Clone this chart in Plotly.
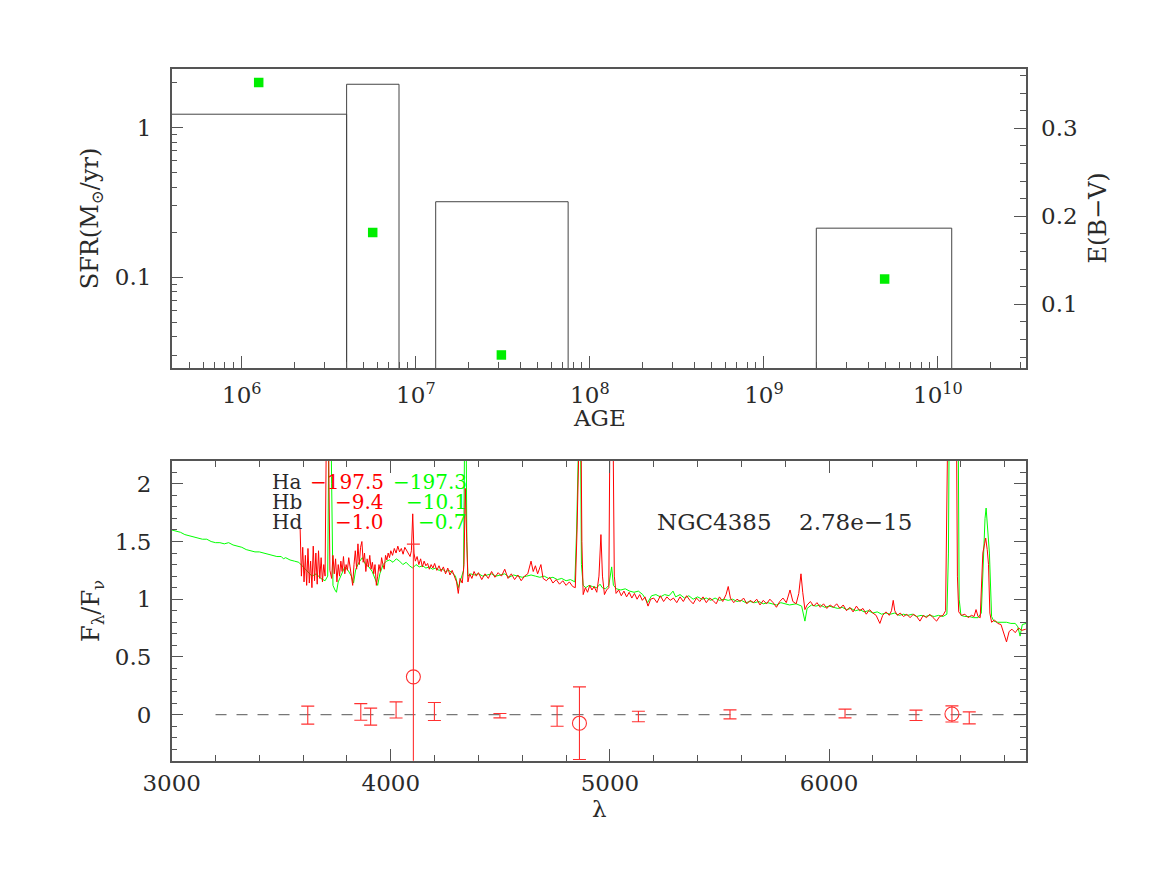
import plotly.graph_objects as go

# the page body has an 8px margin, so the figure is drawn 8px smaller and
# every target pixel position is shifted by that margin
PAGE_PAD = 8
W, H = 1166 - PAGE_PAD, 872 - PAGE_PAD

# ---- top panel: star formation history (SFR bins + E(B-V) per bin)
bin_lo = [1.0e5, 4.0e6, 1.3e7, 2.0e9]
bin_hi = [4.0e6, 8.0e6, 7.5e7, 1.2e10]
bin_sfr = [1.23, 1.95, 0.32, 0.213]

ebv_age = [1.25e6, 5.65e6, 3.1e7, 4.94e9]
ebv_val = [0.352, 0.1815, 0.0424, 0.1287]

age_ticks = [1e6, 1e7, 1e8, 1e9, 1e10]
age_labels = ["10<sup>6</sup>", "10<sup>7</sup>", "10<sup>8</sup>", "10<sup>9</sup>", "10<sup>10</sup>"]
sfr_ticks = [0.1, 1]
sfr_labels = ["0.1", "1"]
ebv_ticks = [0.1, 0.2, 0.3]

# ---- bottom panel: observed (red) and model (green) spectra
obs_wave = [3586, 3592, 3598, 3604, 3610, 3616, 3622, 3628, 3634, 3640, 3646, 3652, 3658, 3664,
            3670, 3676, 3682, 3688, 3694, 3700, 3706, 3712, 3718, 3722, 3730, 3736, 3742, 3748,
            3754, 3760, 3766, 3772, 3778, 3784, 3790, 3796, 3802, 3808, 3814, 3820, 3826, 3832,
            3838, 3844, 3850, 3856, 3862, 3868, 3874, 3880, 3886, 3892, 3898, 3904, 3910, 3916,
            3922, 3928, 3934, 3940, 3946, 3952, 3958, 3964, 3970, 3976, 3982, 3988, 3994, 4000,
            4008, 4016, 4024, 4032, 4040, 4048, 4056, 4064, 4072, 4080, 4088, 4094, 4100, 4106,
            4112, 4120, 4128, 4136, 4144, 4152, 4160, 4168, 4176, 4184, 4192, 4200, 4210, 4220,
            4230, 4240, 4250, 4260, 4270, 4280, 4290, 4300, 4308, 4316, 4326, 4334, 4340, 4346,
            4352, 4360, 4370, 4380, 4390, 4400, 4415, 4430, 4445, 4460, 4475, 4490, 4505, 4520,
            4535, 4550, 4565, 4580, 4595, 4610, 4625, 4640, 4650, 4660, 4670, 4685, 4695, 4710,
            4725, 4740, 4755, 4770, 4785, 4800, 4815, 4830, 4842, 4850, 4856, 4866, 4872, 4878,
            4888, 4898, 4908, 4918, 4928, 4940, 4950, 4959, 4966, 4975, 4985, 4995, 5002, 5012,
            5020, 5028, 5040, 5052, 5064, 5076, 5088, 5100, 5112, 5124, 5136, 5148, 5160, 5174,
            5186, 5200, 5215, 5230, 5245, 5260, 5275, 5290, 5305, 5320, 5335, 5350, 5365, 5380,
            5395, 5410, 5425, 5440, 5455, 5470, 5485, 5500, 5515, 5530, 5540, 5550, 5565, 5580,
            5595, 5610, 5625, 5640, 5655, 5670, 5685, 5700, 5715, 5730, 5745, 5760, 5775, 5790,
            5805, 5822, 5835, 5850, 5862, 5872, 5880, 5890, 5900, 5915, 5930, 5945, 5960, 5975,
            5990, 6005, 6020, 6035, 6050, 6065, 6080, 6095, 6110, 6125, 6140, 6155, 6170, 6185,
            6200, 6215, 6232, 6245, 6260, 6275, 6285, 6293, 6300, 6312, 6325, 6340, 6355, 6370,
            6385, 6400, 6415, 6430, 6445, 6460, 6475, 6491, 6505, 6520, 6532, 6538, 6545, 6580,
            6586, 6592, 6605, 6620, 6635, 6650, 6662, 6671, 6680, 6690, 6697, 6702, 6710, 6715,
            6722, 6728, 6734, 6742, 6755, 6770, 6785, 6797, 6810, 6822, 6835, 6850, 6865, 6880,
            6898]
obs_flux = [1.62, 1.20, 1.45, 1.15, 1.38, 1.12, 1.44, 1.14, 1.33, 1.10, 1.46, 1.16, 1.40, 1.13,
            1.42, 1.18, 1.36, 1.15, 1.30, 1.20, 2.50, 3.00, 2.00, 1.25, 1.18, 1.38, 1.22, 1.35,
            1.15, 1.30, 1.20, 1.33, 1.24, 1.37, 1.22, 1.30, 1.25, 1.36, 1.28, 1.18, 1.12, 1.30,
            1.42, 1.26, 1.48, 1.30, 1.45, 1.50, 1.32, 1.40, 1.24, 1.35, 1.28, 1.38, 1.26, 1.32,
            1.22, 1.30, 1.12, 1.20, 1.30, 1.24, 1.36, 1.30, 1.26, 1.38, 1.34, 1.40, 1.36, 1.42,
            1.38, 1.44, 1.40, 1.46, 1.41, 1.44, 1.39, 1.45, 1.42, 1.40, 1.37, 1.42, 1.74, 1.40,
            1.33, 1.37, 1.30, 1.35, 1.28, 1.33, 1.29, 1.31, 1.26, 1.30, 1.27, 1.31, 1.25, 1.29,
            1.24, 1.28, 1.22, 1.27, 1.21, 1.25, 1.19, 1.15, 1.05, 1.18, 1.14, 1.30, 1.96, 1.40,
            1.15, 1.22, 1.18, 1.24, 1.20, 1.23, 1.17, 1.22, 1.18, 1.24, 1.19, 1.23, 1.20, 1.26,
            1.18, 1.22, 1.17, 1.21, 1.16, 1.20, 1.22, 1.33, 1.24, 1.29, 1.22, 1.30, 1.18, 1.16,
            1.19, 1.14, 1.17, 1.13, 1.16, 1.12, 1.15, 1.11, 1.10, 1.60, 3.00, 3.00, 1.50, 1.04,
            1.10, 1.06, 1.12, 1.08, 1.11, 1.06, 1.20, 1.56, 1.20, 1.04, 1.08, 1.10, 3.00, 3.00,
            1.20, 1.05, 1.08, 1.03, 1.07, 1.02, 1.06, 1.01, 1.05, 1.00, 1.04, 0.99, 1.02, 0.94,
            1.00, 1.01, 0.97, 1.03, 0.98, 1.02, 0.99, 1.01, 0.97, 1.02, 0.98, 1.03, 0.99, 0.96,
            1.01, 0.98, 1.02, 0.97, 1.01, 0.99, 0.96, 1.02, 0.98, 1.04, 1.11, 1.01, 0.97, 1.00,
            0.98, 1.01, 0.96, 0.99, 0.97, 1.00, 0.95, 0.99, 0.96, 1.00, 0.97, 0.93, 0.98, 1.01,
            0.97, 1.08, 0.98, 0.96, 1.05, 1.22, 1.06, 0.91, 0.95, 0.98, 0.94, 0.97, 0.93, 0.96,
            0.92, 0.95, 0.93, 0.96, 0.92, 0.95, 0.90, 0.93, 0.89, 0.94, 0.90, 0.92, 0.87, 0.91,
            0.88, 0.86, 0.79, 0.86, 0.89, 0.86, 0.90, 0.99, 0.90, 0.86, 0.88, 0.85, 0.87, 0.84,
            0.87, 0.85, 0.81, 0.86, 0.84, 0.87, 0.84, 0.81, 0.85, 0.86, 0.90, 1.60, 3.00, 3.00,
            1.20, 0.89, 0.86, 0.87, 0.84, 0.86, 0.85, 0.91, 0.85, 0.84, 1.20, 1.40, 1.48, 1.53,
            1.43, 1.30, 0.88, 0.80, 0.82, 0.79, 0.78, 0.70, 0.63, 0.72, 0.74, 0.71, 0.75, 0.73,
            0.74]

mod_wave = [3000, 3020, 3040, 3060, 3080, 3100, 3120, 3140, 3160, 3180, 3200, 3220, 3240, 3260,
            3280, 3300, 3320, 3340, 3360, 3380, 3400, 3420, 3440, 3460, 3480, 3500, 3510, 3520,
            3540, 3560, 3580, 3600, 3620, 3640, 3660, 3680, 3700, 3712, 3718, 3724, 3730, 3736,
            3745, 3752, 3760, 3775, 3790, 3805, 3820, 3830, 3840, 3855, 3870, 3885, 3900, 3915,
            3930, 3940, 3950, 3965, 3980, 3995, 4010, 4025, 4040, 4055, 4070, 4085, 4100, 4115,
            4130, 4145, 4160, 4175, 4190, 4205, 4220, 4235, 4250, 4265, 4280, 4295, 4308, 4320,
            4332, 4337, 4342, 4347, 4352, 4365, 4380, 4400, 4420, 4440, 4460, 4480, 4500, 4520,
            4540, 4560, 4580, 4600, 4620, 4640, 4660, 4680, 4700, 4720, 4740, 4760, 4780, 4800,
            4820, 4840, 4848, 4854, 4864, 4870, 4878, 4890, 4905, 4920, 4940, 4955, 4965, 4980,
            4995, 5008, 5016, 5030, 5050, 5070, 5090, 5110, 5130, 5150, 5172, 5190, 5210, 5230,
            5250, 5270, 5288, 5300, 5320, 5340, 5360, 5380, 5400, 5420, 5440, 5460, 5480, 5500,
            5520, 5540, 5560, 5580, 5600, 5620, 5640, 5660, 5680, 5700, 5720, 5740, 5760, 5780,
            5800, 5820, 5850, 5875, 5890, 5900, 5920, 5940, 5960, 5980, 6000, 6020, 6040, 6060,
            6080, 6100, 6120, 6140, 6160, 6180, 6200, 6220, 6240, 6260, 6280, 6300, 6320, 6340,
            6360, 6380, 6400, 6420, 6440, 6460, 6480, 6500, 6520, 6538, 6545, 6550, 6588, 6594,
            6602, 6620, 6640, 6660, 6680, 6695, 6705, 6712, 6717, 6724, 6732, 6742, 6752, 6770,
            6790, 6810, 6830, 6850, 6862, 6872, 6882, 6900]
mod_flux = [1.60, 1.59, 1.58, 1.56, 1.55, 1.54, 1.53, 1.52, 1.52, 1.50, 1.49, 1.49, 1.48, 1.49,
            1.47, 1.46, 1.45, 1.43, 1.42, 1.41, 1.41, 1.40, 1.39, 1.38, 1.37, 1.37, 1.35, 1.36,
            1.34, 1.33, 1.32, 1.28, 1.24, 1.20, 1.22, 1.18, 1.16, 1.20, 2.60, 3.00, 2.00, 1.12,
            1.08, 1.06, 1.15, 1.22, 1.28, 1.25, 1.20, 1.14, 1.26, 1.32, 1.36, 1.30, 1.28, 1.24,
            1.16, 1.12, 1.22, 1.30, 1.33, 1.34, 1.32, 1.35, 1.33, 1.30, 1.32, 1.29, 1.27, 1.30,
            1.28, 1.29, 1.27, 1.28, 1.26, 1.27, 1.25, 1.26, 1.24, 1.25, 1.23, 1.20, 1.10, 1.18,
            1.25, 2.50, 3.00, 1.50, 1.20, 1.22, 1.21, 1.22, 1.20, 1.21, 1.22, 1.20, 1.21, 1.22,
            1.19, 1.21, 1.20, 1.19, 1.20, 1.21, 1.20, 1.19, 1.20, 1.18, 1.19, 1.17, 1.18, 1.16,
            1.17, 1.15, 1.60, 3.00, 3.00, 1.30, 1.12, 1.10, 1.12, 1.11, 1.10, 1.13, 1.10, 1.09,
            1.12, 1.28, 1.12, 1.09, 1.08, 1.09, 1.07, 1.06, 1.07, 1.04, 0.97, 1.03, 1.04, 1.02,
            1.04, 1.03, 1.07, 1.02, 1.04, 1.01, 1.03, 1.00, 1.02, 1.00, 1.01, 0.99, 1.01, 0.99,
            1.00, 0.99, 1.00, 0.98, 0.99, 0.97, 0.98, 0.97, 0.98, 0.96, 0.97, 0.96, 0.95, 0.97,
            0.96, 0.95, 0.96, 0.94, 0.81, 0.92, 0.95, 0.94, 0.95, 0.93, 0.94, 0.93, 0.92, 0.93,
            0.91, 0.92, 0.90, 0.91, 0.89, 0.90, 0.88, 0.89, 0.87, 0.88, 0.87, 0.88, 0.86, 0.87,
            0.86, 0.87, 0.85, 0.86, 0.85, 0.86, 0.85, 0.86, 0.85, 0.87, 1.40, 3.00, 3.00, 1.00,
            0.86, 0.85, 0.85, 0.84, 0.84, 0.88, 1.40, 1.70, 1.79, 1.63, 1.40, 0.85, 0.81, 0.80,
            0.80, 0.80, 0.79, 0.79, 0.76, 0.68, 0.78, 0.79]

# measured residuals with errors (red error bars) and the three Balmer lines (circles)
res_wave = [3621, 3863, 3908, 4024, 4199, 4498, 4759, 5130, 5548, 6073, 6397, 6640]
res_val = [-0.005, 0.023, -0.018, 0.040, 0.026, -0.010, -0.014, -0.017, 0.002, 0.009, -0.007, -0.029]
res_err = [0.078, 0.072, 0.074, 0.070, 0.078, 0.019, 0.087, 0.046, 0.039, 0.038, 0.045, 0.052]

bal_wave = [4103, 4861, 6561]
bal_val = [0.327, -0.075, 0.005]
bal_err = [1.15, 0.315, 0.07]

zero_wave = [3200, 6900]
zero_val = [0, 0]

spec_xticks = [3000, 4000, 5000, 6000]
spec_yticks = [0, 0.5, 1, 1.5, 2]

# equivalent widths table
ew_lines = ["Ha", "Hb", "Hd"]
ew_obs = ["−197.5", "−9.4", "−1.0"]
ew_mod = ["−197.3", "−10.1", "−0.7"]
galaxy = "NGC4385"
norm = "2.78e−15"

FONT = "DejaVu Serif"
INK = "#2a2a2a"
FRAME = "#555555"
RED = "#ff0000"
GREEN = "#00ff00"


def px(x):
    return (x - PAGE_PAD) / W


def py(y):
    return 1 - (y - PAGE_PAD) / H


fig = go.Figure()

# SFR bins drawn as open boxes
floor = 1e-3
bx, by = [], []
for lo, hi, v in zip(bin_lo, bin_hi, bin_sfr):
    bx += [lo, lo, hi, hi, None]
    by += [floor, v, v, floor, None]
fig.add_trace(go.Scatter(x=bx, y=by, mode="lines", xaxis="x", yaxis="y",
                         line=dict(color="#444444", width=1), hoverinfo="skip"))

fig.add_trace(go.Scatter(x=ebv_age, y=ebv_val, mode="markers", xaxis="x", yaxis="y2",
                         marker=dict(symbol="square", size=9.5, color="#00ee00",
                                     line=dict(width=0))))

# spectra
fig.add_trace(go.Scatter(x=zero_wave, y=zero_val, mode="lines", xaxis="x2", yaxis="y3",
                         line=dict(color="#777777", width=1.2, dash="11px,10px")))
fig.add_trace(go.Scatter(x=mod_wave, y=mod_flux, mode="lines", xaxis="x2", yaxis="y3",
                         line=dict(color=GREEN, width=1)))
fig.add_trace(go.Scatter(x=obs_wave, y=obs_flux, mode="lines", xaxis="x2", yaxis="y3",
                         line=dict(color=RED, width=1)))
fig.add_trace(go.Scatter(x=res_wave, y=res_val, mode="markers", xaxis="x2", yaxis="y3",
                         marker=dict(size=1, color="rgba(0,0,0,0)"),
                         error_y=dict(type="data", array=res_err, color="#ff3030",
                                      thickness=1.1, width=6.5)))
fig.add_trace(go.Scatter(x=bal_wave, y=bal_val, mode="markers", xaxis="x2", yaxis="y3",
                         marker=dict(symbol="circle-open", size=14, color="#ff3030",
                                     line=dict(width=1.1)),
                         error_y=dict(type="data", array=bal_err, color="#ff3030",
                                      thickness=1.1, width=6.5)))

xdom = [px(171.7), px(1026)]
tick_font = dict(family=FONT, size=23, color=INK)
axis_common = dict(showgrid=False, zeroline=False, showline=True, linecolor=FRAME,
                   linewidth=1.5, ticks="inside", ticklen=12, tickcolor=FRAME,
                   tickwidth=1.2, tickfont=tick_font, automargin=False)

age_minor = [k * 10.0 ** e for e in range(5, 11) for k in range(2, 10)]
sfr_minor = [k * 10.0 ** e for e in range(-2, 1) for k in range(2, 10)]

fig.update_layout(
    template="none",
    width=W, height=H, margin=dict(l=0, r=0, t=0, b=0, pad=0),
    paper_bgcolor="white", plot_bgcolor="white", showlegend=False,
    font=dict(family=FONT, color=INK),
    xaxis=dict(axis_common, domain=xdom, anchor="y", type="log",
               range=[5.597, 10.506], tickvals=age_ticks, ticktext=age_labels,
               mirror=True, ticklabelstandoff=6,
               minor=dict(tickvals=age_minor, ticks="inside", ticklen=6,
                          tickcolor=FRAME, tickwidth=1.2)),
    yaxis=dict(axis_common, domain=[py(368), py(69.3)], anchor="x", type="log",
               range=[-1.606, 0.39], tickvals=sfr_ticks, ticktext=sfr_labels,
               mirror=True, ticklabelstandoff=14,
               minor=dict(tickvals=sfr_minor, ticks="inside", ticklen=6,
                          tickcolor=FRAME, tickwidth=1.2)),
    yaxis2=dict(axis_common, overlaying="y", side="right", anchor="x",
                range=[0.0276, 0.367], tickvals=ebv_ticks, showline=False,
                ticklabelstandoff=14,
                minor=dict(dtick=0.02, ticks="inside", ticklen=6,
                           tickcolor=FRAME, tickwidth=1.2)),
    xaxis2=dict(axis_common, domain=xdom, anchor="y3", range=[3000, 6899],
                tickvals=spec_xticks, mirror="ticks", ticklabelstandoff=1,
                minor=dict(dtick=200, ticks="inside", ticklen=6,
                           tickcolor=FRAME, tickwidth=1.2)),
    yaxis3=dict(axis_common, domain=[py(760.7), py(461)], anchor="x2",
                range=[-0.4, 2.198], tickvals=spec_yticks, mirror="ticks",
                ticklabelstandoff=14,
                minor=dict(dtick=0.1, ticks="inside", ticklen=6,
                           tickcolor=FRAME, tickwidth=1.2)),
)

ann = []


def label(text, x, y, size=23, color=INK, angle=0, xanchor="center"):
    ann.append(dict(text=text, x=px(x), y=py(y), xref="paper", yref="paper",
                    showarrow=False, textangle=angle, xanchor=xanchor, yanchor="middle",
                    font=dict(family=FONT, size=size, color=color)))


label("SFR(M<sub>⊙</sub>/yr)", 91.7, 218.6, size=24, angle=-90)
label("E(B−V)", 1098, 218.6, size=24, angle=-90)
label("AGE", 599, 418)
label("F<sub>λ</sub>/F<sub>ν</sub>", 92, 611, size=24, angle=-90)
label("λ", 599, 809)

for i, name in enumerate(ew_lines):
    yy = 481.7 + 20 * i
    label(name, 270, yy, size=20, xanchor="left")
    label(ew_obs[i], 386, yy, size=20, color=RED, xanchor="right")
    label(ew_mod[i], 469, yy, size=20, color=GREEN, xanchor="right")

label(galaxy, 655, 521.7, size=23, xanchor="left")
label(norm, 797, 521.7, size=23, xanchor="left")

fig.update_layout(annotations=ann)

fig.write_html("out.html")
